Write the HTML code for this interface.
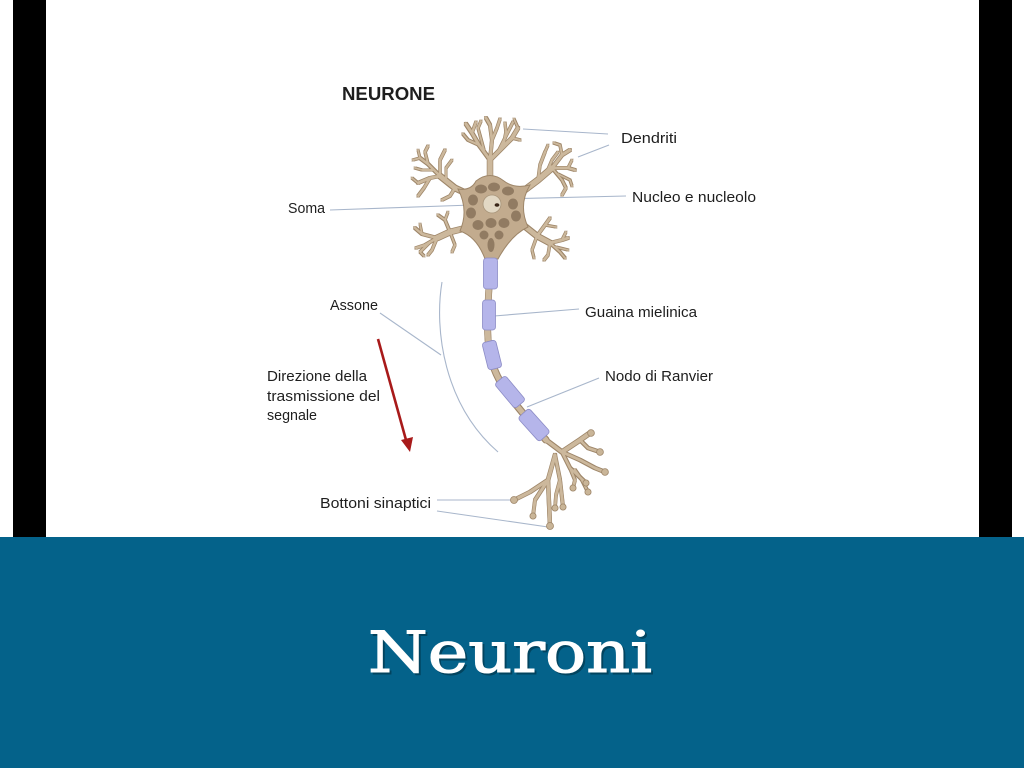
<!DOCTYPE html>
<html>
<head>
<meta charset="utf-8">
<style>
html,body{margin:0;padding:0;background:#fff;}
body{width:1024px;height:768px;overflow:hidden;position:relative;}
svg{position:absolute;left:0;top:0;}
</style>
</head>
<body>
<svg width="1024" height="768" viewBox="0 0 1024 768" xmlns="http://www.w3.org/2000/svg">
<defs>
<g id="den">
<path d="M490,182 L490,160" stroke-width="4.5"/>
<path d="M490,160 L479,145 L472,133 L466,124" stroke-width="2.6"/>
<path d="M479,145 L468,140 L463,134" stroke-width="1.6"/>
<path d="M472,133 L476,122" stroke-width="1.5"/>
<path d="M490,160 L492,140 L490,125 L486,118" stroke-width="2.2"/>
<path d="M492,140 L497,128 L500,119" stroke-width="1.5"/>
<path d="M490,160 L503,147 L512,138 L518,128" stroke-width="2.6"/>
<path d="M512,138 L520,140" stroke-width="1.5"/>
<path d="M503,147 L506,132 L505,123" stroke-width="1.5"/>
<path d="M518,128 L514,119" stroke-width="1.2"/>
<path d="M484,150 L478,128 L481,121" stroke-width="1.3"/>
<path d="M498,152 L510,128 L513,122" stroke-width="1.3"/>

<path d="M470,195 L455,188 L440,176" stroke-width="4.5"/>
<path d="M440,176 L428,164 L420,158" stroke-width="2.2"/>
<path d="M428,164 L425,152 L428,146" stroke-width="1.5"/>
<path d="M420,158 L413,160" stroke-width="1.2"/>
<path d="M440,176 L430,178 L418,183" stroke-width="2"/>
<path d="M430,178 L424,188 L418,196" stroke-width="1.5"/>
<path d="M440,176 L440,160 L445,150" stroke-width="1.6"/>
<path d="M455,188 L450,196 L442,200" stroke-width="1.5"/>
<path d="M420,158 L418,150" stroke-width="1.1"/>
<path d="M418,183 L412,178" stroke-width="1.1"/>
<path d="M434,170 L422,170 L415,168" stroke-width="1.2"/>
<path d="M446,182 L446,168 L452,160" stroke-width="1.2"/>

<path d="M522,192 L538,180 L552,168" stroke-width="4.5"/>
<path d="M552,168 L562,155 L570,150" stroke-width="2.2"/>
<path d="M562,155 L560,145 L554,143" stroke-width="1.5"/>
<path d="M552,168 L568,168 L575,170" stroke-width="2"/>
<path d="M552,168 L562,180 L566,188 L562,195" stroke-width="1.6"/>
<path d="M538,180 L540,165 L545,152" stroke-width="1.6"/>
<path d="M545,152 L548,145" stroke-width="1.1"/>
<path d="M568,168 L572,160" stroke-width="1.1"/>
<path d="M558,174 L570,180 L572,186" stroke-width="1.2"/>
<path d="M546,174 L552,160 L558,152" stroke-width="1.2"/>

<path d="M466,228 L450,232 L437,238" stroke-width="4.5"/>
<path d="M437,238 L422,234 L415,228" stroke-width="2"/>
<path d="M437,238 L425,245 L416,248" stroke-width="1.6"/>
<path d="M437,238 L432,250 L428,255" stroke-width="1.5"/>
<path d="M450,232 L445,220 L438,215" stroke-width="1.6"/>
<path d="M445,220 L448,212" stroke-width="1.1"/>
<path d="M422,234 L420,224" stroke-width="1.1"/>
<path d="M450,232 L455,245 L452,252" stroke-width="1.3"/>
<path d="M430,242 L420,252 L424,256" stroke-width="1.2"/>

<path d="M522,224 L537,236 L550,243" stroke-width="4.5"/>
<path d="M550,243 L562,240 L568,238" stroke-width="2"/>
<path d="M550,243 L560,252 L565,258" stroke-width="1.6"/>
<path d="M550,243 L548,255 L544,260" stroke-width="1.5"/>
<path d="M537,236 L545,225 L550,218" stroke-width="1.6"/>
<path d="M545,225 L556,227" stroke-width="1.1"/>
<path d="M537,236 L532,250 L534,258" stroke-width="1.3"/>
<path d="M562,240 L566,232" stroke-width="1.1"/>
<path d="M556,247 L568,250" stroke-width="1.2"/>

<path d="M491,256 C489,290 485,330 490,355 C496,385 520,410 546,440" stroke-width="5"/>

<path d="M546,440 L562,452 L580,440 L590,433" stroke-width="3.2"/>
<path d="M580,440 L588,448 L600,452" stroke-width="2.2"/>
<path d="M562,452 L580,460 L595,468 L605,472" stroke-width="2.4"/>
<path d="M562,452 L570,468 L585,482" stroke-width="2.2"/>
<path d="M570,468 L575,480 L573,488" stroke-width="1.8"/>
<path d="M575,470 L582,480 L588,492" stroke-width="1.8"/>
<path d="M555,455 L560,480 L563,507" stroke-width="2.2"/>
<path d="M560,480 L556,495 L555,508" stroke-width="1.8"/>
<path d="M555,455 L548,480 L550,526" stroke-width="2.6"/>
<path d="M548,480 L535,500 L533,516" stroke-width="2"/>
<path d="M548,480 L530,492 L514,500" stroke-width="2.2"/>
</g>
</defs>

<!-- frame -->
<rect x="13" y="0" width="33" height="537" fill="#000"/>
<rect x="979" y="0" width="33" height="537" fill="#000"/>
<rect x="0" y="537" width="1024" height="231" fill="#04628a"/>

<!-- leader lines -->
<g stroke="#a8b6cb" stroke-width="1.1" fill="none">
<line x1="523" y1="129" x2="608" y2="134"/>
<line x1="578" y1="157" x2="609" y2="145"/>
<line x1="500" y1="199" x2="626" y2="196"/>
<line x1="330" y1="210" x2="472" y2="205"/>
<line x1="380" y1="313" x2="441" y2="355"/>
<path d="M442,282 C434,330 444,405 498,452"/>
<line x1="494" y1="316" x2="579" y2="309"/>
<line x1="527" y1="407" x2="599" y2="378"/>
<line x1="437" y1="500" x2="513" y2="500"/>
<line x1="437" y1="511" x2="548" y2="527"/>
</g>

<!-- neuron -->
<g fill="none" stroke="#9e8669" stroke-linecap="round" stroke-linejoin="round">
<use href="#den" transform="translate(0.9,0.9)"/>
<use href="#den" transform="translate(-0.9,-0.9)"/>
<use href="#den" transform="translate(0.9,-0.9)"/>
<use href="#den" transform="translate(-0.9,0.9)"/>
</g>
<g fill="none" stroke="#ccb89c" stroke-linecap="round" stroke-linejoin="round">
<use href="#den"/>
<use href="#den" transform="translate(0.35,0.35)"/>
<use href="#den" transform="translate(-0.35,-0.35)"/>
</g>

<!-- terminal knobs -->
<g fill="#c9b598" stroke="#9e8669" stroke-width="0.8">
<circle cx="591" cy="433" r="3.4"/>
<circle cx="600" cy="452" r="3.4"/>
<circle cx="605" cy="472" r="3.4"/>
<circle cx="586" cy="483" r="3.1"/>
<circle cx="573" cy="488" r="3.1"/>
<circle cx="588" cy="492" r="3.1"/>
<circle cx="563" cy="507" r="3.1"/>
<circle cx="555" cy="508" r="3.1"/>
<circle cx="550" cy="526" r="3.5"/>
<circle cx="533" cy="516" r="3.1"/>
<circle cx="514" cy="500" r="3.5"/>
</g>

<!-- soma -->
<path d="M476,181 Q490,170 504,181 Q514,189 530,185 Q518,205 528,227 Q511,235 498,259 L485,259 Q477,237 460,231 Q469,210 458,189 Q471,191 476,181 Z" fill="#c2ab8e" stroke="#9e8669" stroke-width="1"/>
<g fill="#857058" opacity="0.8">
<ellipse cx="481" cy="189" rx="6" ry="4.5"/>
<ellipse cx="494" cy="187" rx="6" ry="4.5"/>
<ellipse cx="508" cy="191" rx="6" ry="4.5"/>
<ellipse cx="473" cy="200" rx="5" ry="5.5"/>
<ellipse cx="513" cy="204" rx="5" ry="5.5"/>
<ellipse cx="471" cy="213" rx="5" ry="5.5"/>
<ellipse cx="516" cy="216" rx="5" ry="5.5"/>
<ellipse cx="478" cy="225" rx="5.5" ry="5"/>
<ellipse cx="491" cy="223" rx="5.5" ry="5"/>
<ellipse cx="504" cy="223" rx="5.5" ry="5"/>
<ellipse cx="484" cy="235" rx="4.5" ry="4.5"/>
<ellipse cx="499" cy="235" rx="4.5" ry="4.5"/>
<ellipse cx="491" cy="245" rx="3.5" ry="7"/>
</g>
<circle cx="492" cy="204" r="9" fill="#e2d8c4" stroke="#a8957a" stroke-width="0.8"/>
<ellipse cx="497" cy="205" rx="2.4" ry="1.8" fill="#3a2618"/>

<!-- myelin sheaths -->
<g fill="#b5b5ea" stroke="#8c8cc6" stroke-width="0.8">
<rect x="483.5" y="258" width="14" height="31" rx="3"/>
<rect x="482.5" y="300" width="13" height="30" rx="3"/>
<rect x="-7" y="-14" width="14" height="28" rx="3" transform="translate(492,355) rotate(-14)"/>
<rect x="-7" y="-16" width="14" height="32" rx="3" transform="translate(510,392) rotate(-40)"/>
<rect x="-7.5" y="-16" width="15" height="32" rx="3" transform="translate(534,425) rotate(-42)"/>
</g>

<!-- red arrow -->
<line x1="378" y1="339" x2="406" y2="440" stroke="#a81a1a" stroke-width="2.6"/>
<polygon points="410,452 401,440 413,437" fill="#a81a1a"/>

<!-- labels -->
<g font-family="Liberation Sans, sans-serif" font-size="15" fill="#1e1e1e">
<text x="342" y="100" font-size="18" font-weight="bold" textLength="93" lengthAdjust="spacingAndGlyphs">NEURONE</text>
<text x="621" y="143" textLength="56" lengthAdjust="spacingAndGlyphs">Dendriti</text>
<text x="632" y="202" textLength="124" lengthAdjust="spacingAndGlyphs">Nucleo e nucleolo</text>
<text x="288" y="213" textLength="37" lengthAdjust="spacingAndGlyphs">Soma</text>
<text x="330" y="310" textLength="48" lengthAdjust="spacingAndGlyphs">Assone</text>
<text x="585" y="317" textLength="112" lengthAdjust="spacingAndGlyphs">Guaina mielinica</text>
<text x="605" y="381" textLength="108" lengthAdjust="spacingAndGlyphs">Nodo di Ranvier</text>
<text x="267" y="381" textLength="100" lengthAdjust="spacingAndGlyphs">Direzione della</text>
<text x="267" y="401" textLength="113" lengthAdjust="spacingAndGlyphs">trasmissione del</text>
<text x="267" y="420" textLength="50" lengthAdjust="spacingAndGlyphs">segnale</text>
<text x="320" y="508" textLength="111" lengthAdjust="spacingAndGlyphs">Bottoni sinaptici</text>
</g>

<!-- title -->
<text x="370" y="674" font-family="DejaVu Serif, Liberation Serif, serif" font-size="57" fill="#000" stroke="#000" stroke-width="1" opacity="0.3" textLength="284" lengthAdjust="spacingAndGlyphs">Neuroni</text>
<text x="368" y="672" font-family="DejaVu Serif, Liberation Serif, serif" font-size="57" fill="#ffffff" stroke="#ffffff" stroke-width="1.1" textLength="284" lengthAdjust="spacingAndGlyphs">Neuroni</text>
</svg>
</body>
</html>
